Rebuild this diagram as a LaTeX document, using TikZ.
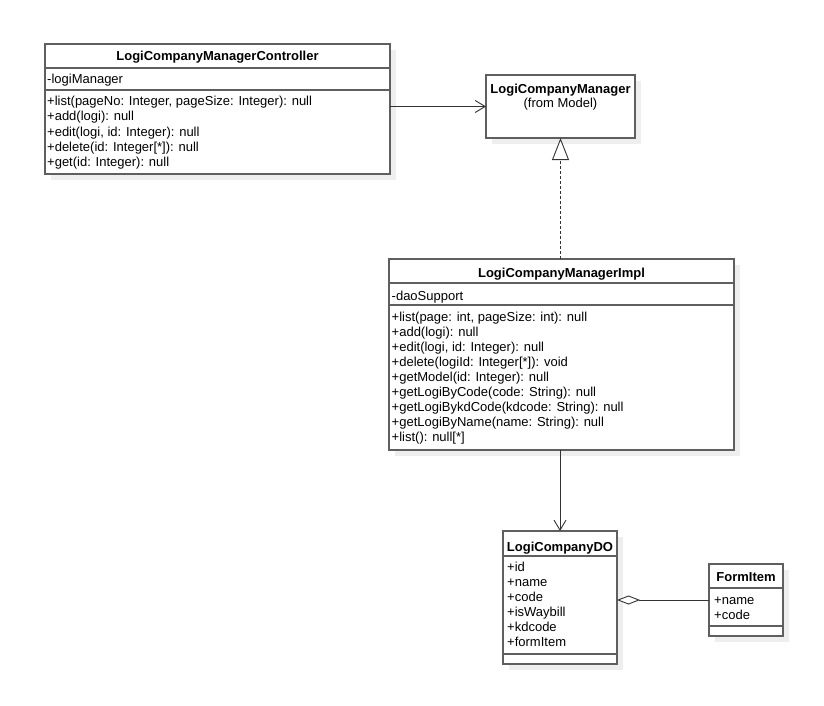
\documentclass[tikz,border=0pt]{standalone}
\usepackage{fontspec}
\setmainfont{Liberation Sans}
\usetikzlibrary{arrows.meta,shadows}
\definecolor{edgec}{HTML}{5F5F5F}
\definecolor{shadec}{HTML}{EEEEEE}
\definecolor{linec}{HTML}{333333}
\begin{document}
\begin{tikzpicture}[x=1pt,y=-1pt,
  cls/.style={draw=edgec, line width=1.3pt, fill=white, rectangle, inner sep=0pt, outer sep=0pt, anchor=north west,
    drop shadow={shadow xshift=6pt, shadow yshift=-6pt, fill=shadec, opacity=1}},
  sepl/.style={draw=edgec, line width=1.3pt},
  ttl/.style={inner sep=0pt, anchor=base, font=\fontsize{13}{15}\selectfont\bfseries},
  sub/.style={inner sep=0pt, anchor=base, font=\fontsize{13}{15}\selectfont},
  txt/.style={inner sep=0pt, anchor=base west, font=\fontsize{13}{15}\selectfont},
  assoc/.style={draw=linec, line width=0.9pt, -{Straight Barb[length=10pt,width=12pt]}},
  real/.style={draw=linec, line width=0.9pt, dashed, dash pattern=on 3pt off 2pt, -{Triangle[open,length=22pt,width=17pt,fill=white]}},
  aggr/.style={draw=linec, line width=0.9pt, {Diamond[open,length=23pt,width=9pt,fill=white]}-}]
\fill[white] (0,0) rectangle (824,706);
\useasboundingbox (0,0) rectangle (824,706);

% Controller
\node[cls, minimum width=345pt, minimum height=130pt] (ctrl) at (45,44) {};
\draw[sepl] (45,68) -- (390,68);
\draw[sepl] (45,90) -- (390,90);
\node[ttl] (ctrlT) at (217.5,61) {LogiCompanyManagerController};
\node[txt] (ctrlA1) at (47,84) {-logiManager};
\node[txt] (ctrlM1) at (47,106) {+list(pageNo: Integer, pageSize: Integer): null};
\node[txt] (ctrlM2) at (47,121) {+add(logi): null};
\node[txt] (ctrlM3) at (47,136) {+edit(logi, id: Integer): null};
\node[txt] (ctrlM4) at (47,151) {+delete(id: Integer[*]): null};
\node[txt] (ctrlM5) at (47,166) {+get(id: Integer): null};

% Manager interface
\node[cls, minimum width=149pt, minimum height=63pt] (mgr) at (486,75) {};
\node[ttl] (mgrT) at (560.5,94) {LogiCompanyManager};
\node[sub] (mgrS) at (560.5,108) {(from Model)};

% Impl
\node[cls, minimum width=345pt, minimum height=191pt] (impl) at (389,259) {};
\draw[sepl] (389,283) -- (734,283);
\draw[sepl] (389,305) -- (734,305);
\node[ttl] (implT) at (561.5,277) {LogiCompanyManagerImpl};
\node[txt] (implA1) at (391.5,300) {-daoSupport};
\node[txt] (implM1) at (391.5,321.5) {+list(page: int, pageSize: int): null};
\node[txt] (implM2) at (391.5,336.5) {+add(logi): null};
\node[txt] (implM3) at (391.5,351.5) {+edit(logi, id: Integer): null};
\node[txt] (implM4) at (391.5,366.5) {+delete(logiId: Integer[*]): void};
\node[txt] (implM5) at (391.5,381.5) {+getModel(id: Integer): null};
\node[txt] (implM6) at (391.5,396.5) {+getLogiByCode(code: String): null};
\node[txt] (implM7) at (391.5,411.5) {+getLogiBykdCode(kdcode: String): null};
\node[txt] (implM8) at (391.5,426.5) {+getLogiByName(name: String): null};
\node[txt] (implM9) at (391.5,441.5) {+list(): null[*]};

% DO
\node[cls, minimum width=114pt, minimum height=133pt] (do) at (503,531) {};
\draw[sepl] (503,556) -- (617,556);
\draw[sepl] (503,654) -- (617,654);
\node[ttl] (doT) at (560,551) {LogiCompanyDO};
\node[txt] (doA1) at (507,571.5) {+id};
\node[txt] (doA2) at (507,586.4) {+name};
\node[txt] (doA3) at (507,601.3) {+code};
\node[txt] (doA4) at (507,616.2) {+isWaybill};
\node[txt] (doA5) at (507,631.1) {+kdcode};
\node[txt] (doA6) at (507,646) {+formItem};

% FormItem
\node[cls, minimum width=74pt, minimum height=72pt] (form) at (709,564) {};
\draw[sepl] (709,588) -- (783,588);
\draw[sepl] (709,626) -- (783,626);
\node[ttl] (formT) at (746,581) {FormItem};
\node[txt] (formA1) at (714,604) {+name};
\node[txt] (formA2) at (714,619) {+code};

% connectors
\draw[assoc] (ctrl.east |- mgr.west) -- (mgr.west);
\draw[real] (impl.north -| mgr.south) -- (mgr.south);
\draw[assoc] (impl.south -| do.north) -- (do.north);
\draw[aggr] (do.east |- form.west) -- (form.west);
\end{tikzpicture}
\end{document}
